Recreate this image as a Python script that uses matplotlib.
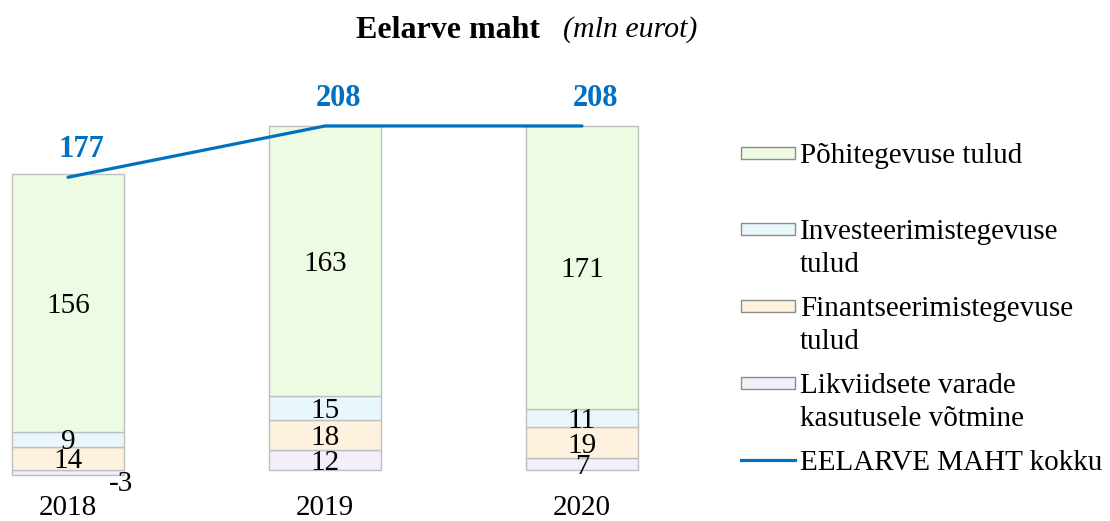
import matplotlib.pyplot as plt
from matplotlib.patches import Rectangle
from matplotlib.lines import Line2D

plt.rcParams['font.family'] = ['Liberation Serif', 'DejaVu Serif']

# data (mln eurot)
years = ['2018', '2019', '2020']
likviidsed = [-3, 12, 7]
finantseerimine = [14, 18, 19]
investeerimine = [9, 15, 11]
pohitegevus = [156, 163, 171]
kokku = [177, 208, 208]

series_names = ['Põhitegevuse tulud', 'Investeerimistegevuse\ntulud',
                'Finantseerimistegevuse\ntulud', 'Likviidsete varade\nkasutusele võtmine']
colors = {'pohi': '#EEFBE3', 'inv': '#E9F7FD', 'fin': '#FEF1DD', 'lik': '#F2EEFA'}
edge = '#BFBFBF'
blue = '#0070C0'

W, H = 1110, 521
fig = plt.figure(figsize=(W / 100, H / 100), dpi=100)

# axes placed in pixel terms
L, R, T, B = 0, 700, 60, 480
ax = fig.add_axes([L / W, 1 - B / H, (R - L) / W, (B - T) / H])
ax.set_xlim((L - 68) / 257, (R - 68) / 257)
ax.set_ylim(-(B - 470) / 1.654, (470 - T) / 1.654)

x = list(range(len(years)))
bw = 0.436
fs = 21

# stack positives from 0 upward, negatives downward
pos_bottom = [0.0] * len(years)
neg_bottom = [0.0] * len(years)
for vals, key in [(likviidsed, 'lik'), (finantseerimine, 'fin'),
                  (investeerimine, 'inv'), (pohitegevus, 'pohi')]:
    for i, v in enumerate(vals):
        if v >= 0:
            b = pos_bottom[i]
            pos_bottom[i] += v
        else:
            b = neg_bottom[i]
            neg_bottom[i] += v
        ax.bar(x[i], v, bottom=b, width=bw, color=colors[key], edgecolor=edge, linewidth=1)
        if v >= 0:
            ax.text(x[i], b + v / 2, str(v), ha='center', va='center_baseline', fontsize=fs)
        else:
            ax.annotate(str(v), (x[i] + bw / 2, b + v), xytext=(-2, 3),
                        textcoords='offset points', ha='center', va='top', fontsize=fs)

ax.plot(x, kokku, color=blue, linewidth=2.3, solid_capstyle='round')
for i, v in enumerate(kokku):
    ax.annotate(str(v), (x[i], v), xytext=(10, 20), textcoords='offset points',
                ha='center', va='center', fontsize=22, fontweight='bold', color=blue)

ax.set_xticks(x)
ax.set_xticklabels(years, fontsize=fs)
ax.tick_params(axis='x', length=0, pad=11)
ax.set_yticks([])
for s in ax.spines.values():
    s.set_visible(False)

# title
fig.text(540 / W, 1 - 30 / H, 'Eelarve maht', ha='right', va='center',
         fontsize=23, fontweight='bold')
fig.text(563 / W, 1 - 30 / H, '(mln eurot)', ha='left', va='center',
         fontsize=21.5, style='italic')

# legend drawn by hand so the handle sits on the first line
leg_y = [153, 229, 306, 383]
line_gap = 33
for name, key, yy in zip(series_names, ['pohi', 'inv', 'fin', 'lik'], leg_y):
    fig.patches.append(Rectangle((741 / W, 1 - (yy + 6) / H), 54 / W, 12 / H,
                                 transform=fig.transFigure, facecolor=colors[key],
                                 edgecolor='#8C8C8C', linewidth=1))
    for k, part in enumerate(name.split('\n')):
        fig.text(800 / W, 1 - (yy + k * line_gap) / H, part, ha='left',
                 va='center_baseline', fontsize=fs)
fig.lines.append(Line2D([741 / W, 795 / W], [1 - 460 / H, 1 - 460 / H],
                        transform=fig.transFigure, color=blue, linewidth=2.3))
fig.text(800 / W, 1 - 460 / H, 'EELARVE MAHT kokku', ha='left', va='center_baseline',
         fontsize=fs)

plt.savefig('out.png', dpi=100)
